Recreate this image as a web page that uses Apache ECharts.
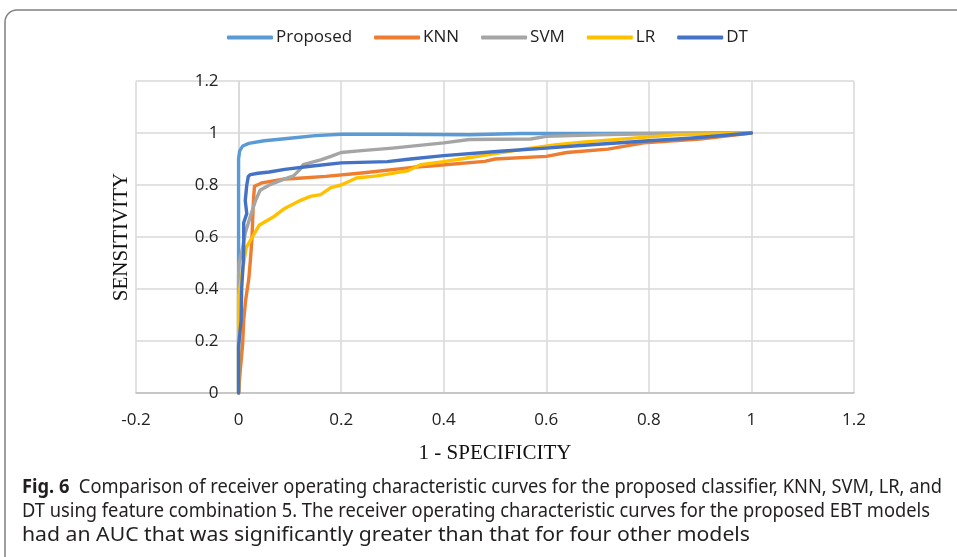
<!DOCTYPE html>
<html>
<head>
<meta charset="utf-8">
<script src="https://cdn.jsdelivr.net/npm/echarts@6/dist/echarts.min.js"></script>
<style>html,body{margin:0;padding:0;background:#fff;}#c{width:957px;height:557px;}</style>
</head>
<body>
<div id="c"></div>
<script>
// ---- data (x = 1 - specificity, y = sensitivity) ----
const seriesNames = ['Proposed', 'KNN', 'SVM', 'LR', 'DT'];
const xTicks = ['-0.2', '0', '0.2', '0.4', '0.6', '0.8', '1', '1.2'];
const yTicks = ['0', '0.2', '0.4', '0.6', '0.8', '1', '1.2'];

const proposed = [[0,0],[0,0.5],[0,0.9],[0.002,0.93],[0.008,0.95],[0.02,0.96],[0.05,0.97],[0.1,0.98],[0.15,0.99],[0.2,0.995],[0.3,0.995],[0.45,0.993],[0.55,0.998],[0.7,0.998],[1,1]];
const knn = [[0,0],[0.003,0.08],[0.008,0.19],[0.01,0.28],[0.014,0.36],[0.02,0.44],[0.023,0.51],[0.026,0.59],[0.029,0.74],[0.031,0.795],[0.045,0.808],[0.09,0.823],[0.11,0.825],[0.17,0.833],[0.24,0.846],[0.34,0.868],[0.38,0.874],[0.48,0.891],[0.5,0.9],[0.6,0.91],[0.64,0.925],[0.72,0.938],[0.79,0.962],[0.9,0.977],[1,1]];
const svm = [[0,0],[0,0.45],[0.001,0.5],[0.007,0.55],[0.013,0.615],[0.023,0.68],[0.033,0.74],[0.042,0.78],[0.06,0.8],[0.085,0.82],[0.107,0.835],[0.12,0.86],[0.126,0.878],[0.16,0.897],[0.18,0.91],[0.2,0.925],[0.24,0.932],[0.3,0.942],[0.4,0.962],[0.45,0.975],[0.57,0.977],[0.6,0.987],[0.7,0.993],[0.8,0.997],[1,1]];
const lr = [[0,0],[0,0.2],[0,0.37],[0.01,0.5],[0.015,0.56],[0.027,0.6],[0.04,0.645],[0.07,0.68],[0.09,0.71],[0.12,0.74],[0.14,0.756],[0.16,0.763],[0.18,0.79],[0.2,0.8],[0.23,0.827],[0.27,0.835],[0.33,0.855],[0.355,0.878],[0.4,0.89],[0.445,0.904],[0.55,0.936],[0.62,0.955],[0.67,0.965],[0.85,0.993],[0.9,0.995],[1,1]];
const dt = [[0,0],[0,0.18],[0.005,0.28],[0.006,0.4],[0.009,0.5],[0.01,0.55],[0.01,0.655],[0.016,0.69],[0.013,0.74],[0.016,0.8],[0.019,0.833],[0.023,0.84],[0.038,0.845],[0.06,0.85],[0.09,0.86],[0.14,0.872],[0.2,0.885],[0.29,0.89],[0.335,0.9],[0.4,0.913],[0.51,0.93],[0.6,0.942],[0.66,0.951],[0.8,0.97],[0.88,0.98],[1,1]];

const colors = ['#5B9BD5', '#ED7D31', '#A5A5A5', '#FFC000', '#4472C4'];
const allData = [proposed, knn, svm, lr, dt];

const captionBold = 'Fig. 6';
const captionLines = [
  '  Comparison of receiver operating characteristic curves for the proposed classifier, KNN, SVM, LR, and',
  'DT using feature combination 5. The receiver operating characteristic curves for the proposed EBT models',
  'had an AUC that was significantly greater than that for four other models'
];

// layout
const W = 957, H = 557;
const G = {left: 136, right: 103, top: 81, bottom: 164};
const xMin = -0.2, xMax = 1.2;
const plotW = W - G.left - G.right;
const yAxisOffset = -plotW * (0 - xMin) / (xMax - xMin); // put y axis at x = 0

// caption: each line compressed to the width it occupies in the reference
const capFont = 'Noto Sans';
const capSize = 19;
const capX = 22, capY0 = 476, capLH = 24;
const capTargetW = [920, 908, 728];
const ctx = document.createElement('canvas').getContext('2d');
function tw(t, bold) {
  ctx.font = (bold ? 'bold ' : '') + capSize + 'px "' + capFont + '"';
  return ctx.measureText(t).width;
}
const capWidths = [tw(captionBold, true) + tw(captionLines[0]), tw(captionLines[1]), tw(captionLines[2])];

const captionGraphics = captionLines.map((line, i) => ({
  type: 'text', x: capX, y: capY0 + i * capLH, scaleX: capTargetW[i] / capWidths[i], silent: true,
  style: {
    text: i === 0 ? '{b|' + captionBold + '}' + line : line,
    fontFamily: capFont, fontSize: capSize, lineHeight: capLH, fill: '#231F20',
    rich: {b: {fontFamily: capFont, fontWeight: 'bold', fontSize: capSize, lineHeight: capLH, fill: '#231F20'}}
  }
}));

const chart = echarts.init(document.getElementById('c'), null, {renderer: 'canvas'});
const fmt = (v) => {
  const r = Math.round(v * 10) / 10;
  return String(Math.abs(r) < 1e-9 ? 0 : r);
};

chart.setOption({
  animation: false,
  backgroundColor: '#fff',
  color: colors,
  grid: {left: G.left, right: G.right, top: G.top, bottom: G.bottom, outerBoundsMode: 'none'},
  legend: {
    data: seriesNames,
    left: 227, top: 29, padding: 0,
    icon: 'roundRect',
    itemWidth: 46, itemHeight: 4, itemGap: 22,
    textStyle: {fontFamily: 'Open Sans', fontSize: 17, color: '#222', padding: [0,0,0,-2]}
  },
  xAxis: {
    type: 'value', min: xMin, max: xMax, interval: 0.2,
    name: '1 - SPECIFICITY', nameLocation: 'middle', nameGap: 50,
    nameTextStyle: {fontFamily: 'Liberation Serif', fontSize: 21, color: '#111'},
    axisLine: {show: true, onZero: false, lineStyle: {color: '#BFBFBF', width: 1.5}},
    axisTick: {show: false},
    axisLabel: {formatter: fmt, margin: 19, fontFamily: 'Open Sans', fontSize: 17, color: '#222'},
    splitLine: {show: true, lineStyle: {color: '#D9D9D9', width: 1.5}}
  },
  yAxis: {
    type: 'value', min: 0, max: 1.2, interval: 0.2,
    offset: yAxisOffset,
    name: 'SENSITIVITY', nameLocation: 'middle', nameGap: 107,
    nameTextStyle: {fontFamily: 'Liberation Serif', fontSize: 21, color: '#111'},
    axisLine: {show: true, onZero: false, lineStyle: {color: '#D9D9D9', width: 1.5}},
    axisTick: {show: false},
    axisLabel: {formatter: fmt, margin: 20, fontFamily: 'Open Sans', fontSize: 17, color: '#222'},
    splitLine: {show: true, lineStyle: {color: '#D9D9D9', width: 1.5}}
  },
  series: seriesNames.map((n, i) => ({
    name: n, type: 'line', data: allData[i],
    showSymbol: false, symbol: 'none', smooth: false,
    lineStyle: {width: 3.4, color: colors[i], cap: 'round', join: 'round'},
    z: 2 + i
  })),
  graphic: [
    {type: 'rect', z: -1, silent: true,
     shape: {x: 5, y: 10, width: 1100, height: 700, r: 12},
     style: {fill: 'none', stroke: '#808080', lineWidth: 1.5}}
  ].concat(captionGraphics)
});
</script>
</body>
</html>
